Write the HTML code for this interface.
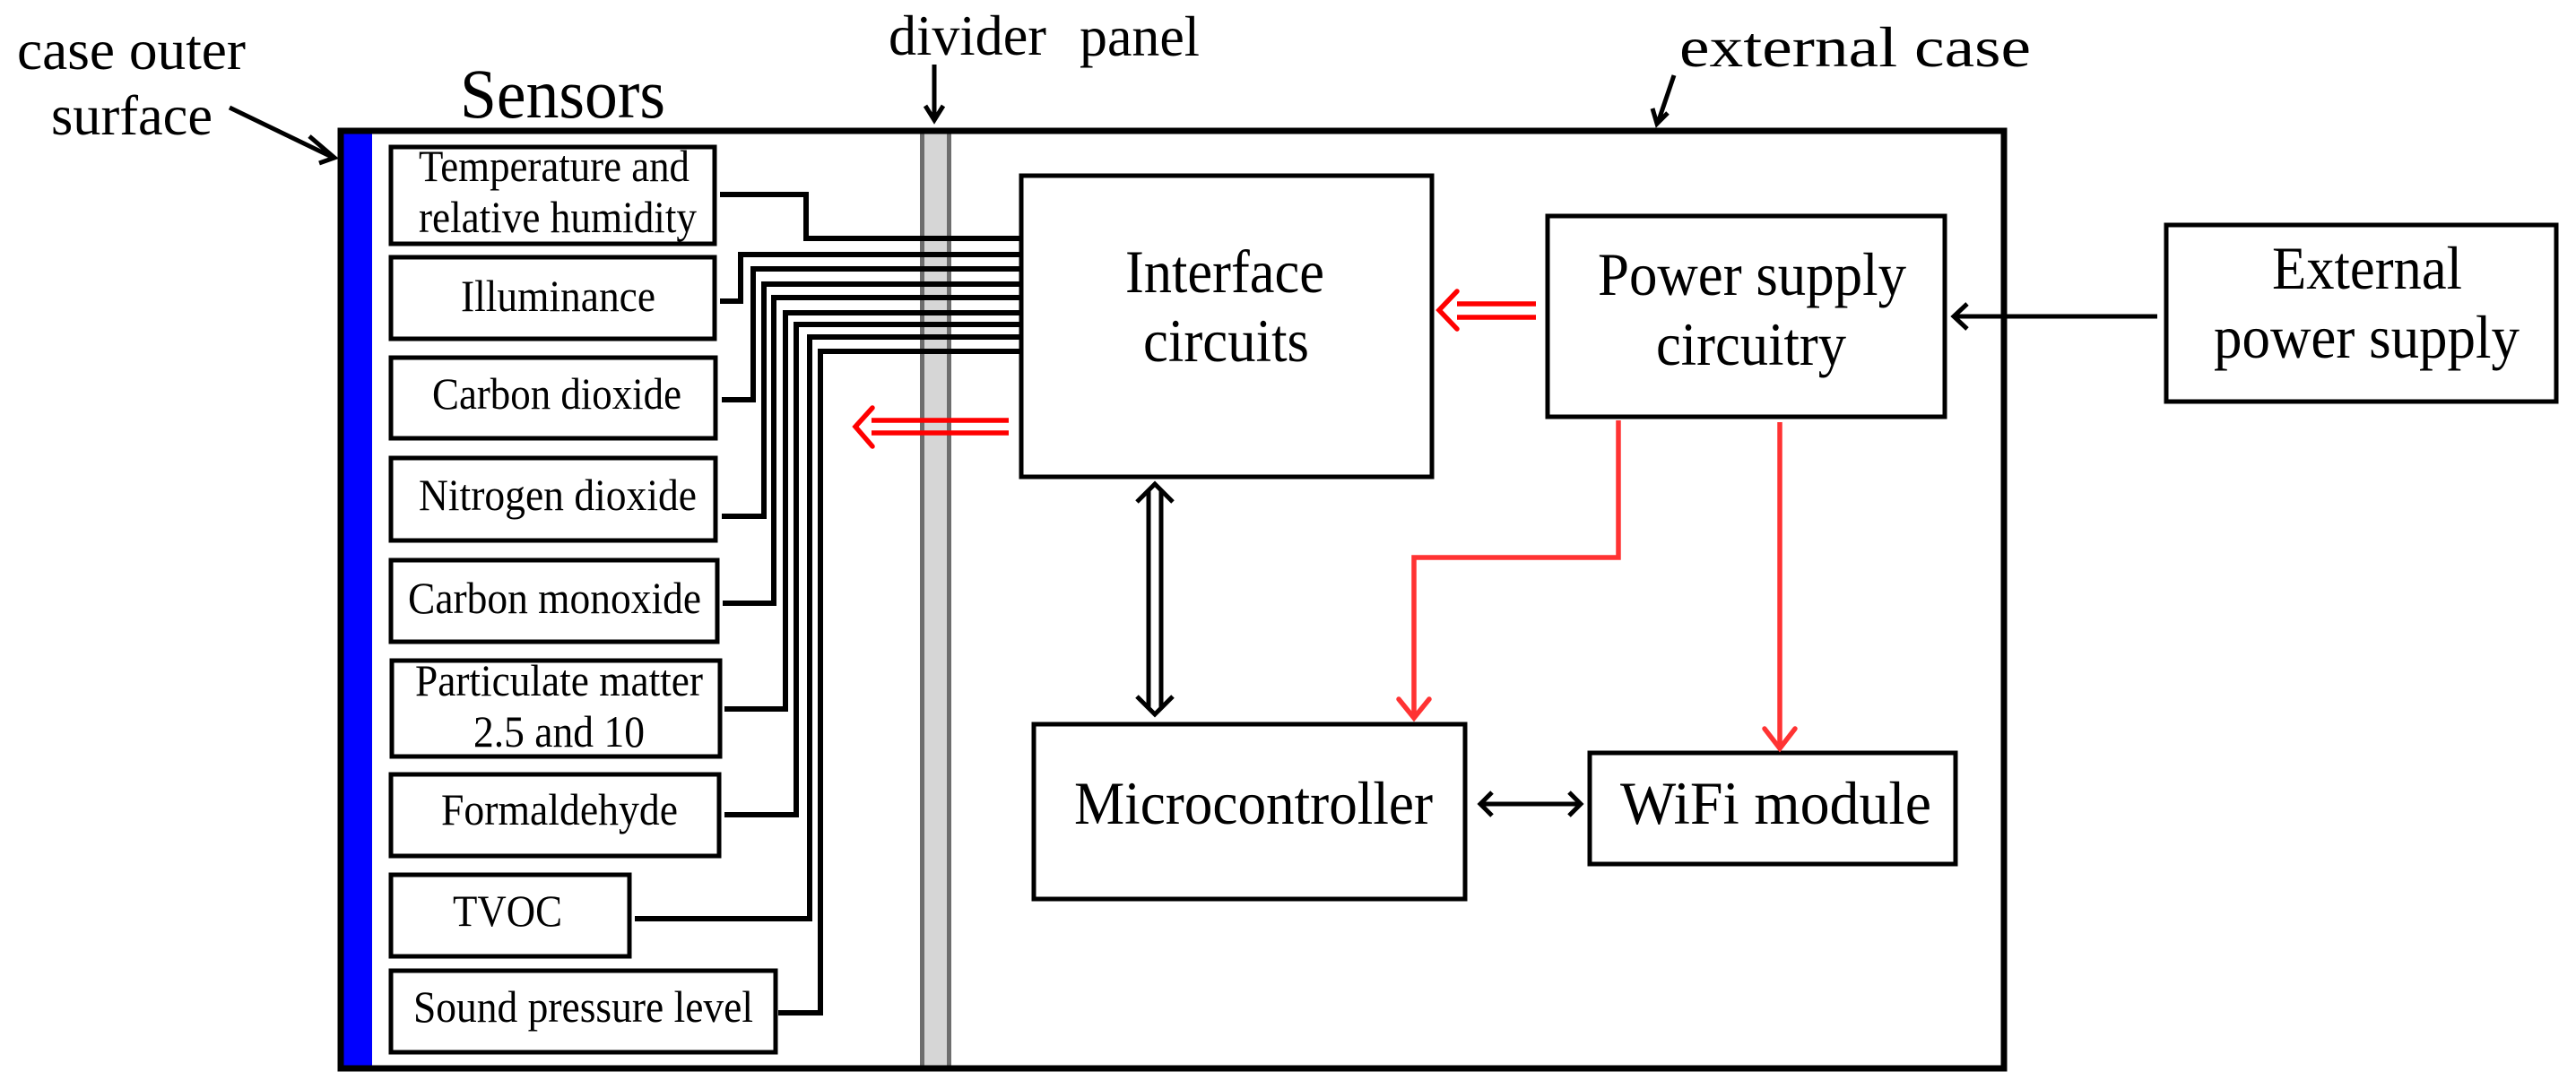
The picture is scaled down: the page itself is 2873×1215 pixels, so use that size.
<!DOCTYPE html>
<html><head><meta charset="utf-8"><style>
html,body{margin:0;padding:0;background:#fff;}
svg{display:block;}
</style></head><body>
<svg width="2873" height="1215" viewBox="0 0 2873 1215" xmlns="http://www.w3.org/2000/svg" font-family="'Liberation Serif', serif">
<!-- divider -->
<rect x="1026" y="149" width="35" height="1043" fill="#d6d6d6"/>
<rect x="1026" y="149" width="5" height="1043" fill="#6e6e6e"/>
<rect x="1056" y="149" width="5" height="1043" fill="#6e6e6e"/>
<!-- blue bar -->
<rect x="383" y="149" width="32" height="1043" fill="#0000ff"/>
<!-- external case -->
<rect x="380" y="146" width="1855" height="1046" fill="none" stroke="#000" stroke-width="7"/>

<!-- sensor boxes -->
<g fill="none" stroke="#000" stroke-width="5">
<rect x="436" y="164" width="361" height="108"/>
<rect x="436" y="287" width="361" height="91"/>
<rect x="436" y="399" width="362" height="90"/>
<rect x="436" y="511" width="362" height="92"/>
<rect x="436" y="625" width="364" height="91"/>
<rect x="437" y="737" width="366" height="107"/>
<rect x="436" y="864" width="366" height="91"/>
<rect x="436" y="976" width="266" height="91"/>
<rect x="436" y="1083" width="429" height="91"/>
</g>
<!-- wires -->
<g fill="none" stroke="#000" stroke-width="6" stroke-linejoin="miter">
<polyline points="803,217 899,217 899,266 1139,266"/>
<polyline points="803,336 826,336 826,284 1139,284"/>
<polyline points="805,446 840,446 840,300 1139,300"/>
<polyline points="805,576 852,576 852,317 1139,317"/>
<polyline points="806,673 863,673 863,332 1139,332"/>
<polyline points="808,791 876,791 876,349 1139,349"/>
<polyline points="808,909 888,909 888,362 1139,362"/>
<polyline points="708,1025 903,1025 903,376 1139,376"/>
<polyline points="868,1130 915,1130 915,392 1139,392"/>
</g>

<!-- main boxes -->
<g fill="none" stroke="#000" stroke-width="5">
<rect x="1139" y="196" width="458" height="336"/>
<rect x="1726" y="241" width="443" height="224"/>
<rect x="2416" y="251" width="435" height="197"/>
<rect x="1153" y="808" width="481" height="195"/>
<rect x="1773" y="840" width="408" height="124"/>
</g>

<!-- black arrows -->
<g fill="none" stroke="#000" stroke-width="5">
<line x1="256" y1="120" x2="372" y2="176"/>
<polyline points="345,152 373,176 356,182"/>
<line x1="1042" y1="72" x2="1042" y2="134"/>
<polyline points="1032,118 1042,134 1052,118"/>
<line x1="1867" y1="84" x2="1849" y2="137"/>
<polyline points="1843,121 1848,138 1860,126"/>
<line x1="2406" y1="353" x2="2180" y2="353"/>
<polyline points="2194,339 2179,353 2194,367"/>
<line x1="1652" y1="897" x2="1762" y2="897"/>
<polyline points="1664,884 1651,897 1664,910"/>
<polyline points="1750,884 1763,897 1750,910"/>
<line x1="1281" y1="548" x2="1281" y2="790"/>
<line x1="1295" y1="548" x2="1295" y2="790"/>
<polyline points="1268,560 1288,540 1308,560"/>
<polyline points="1268,777 1288,797 1308,777"/>
</g>

<!-- red arrows -->
<g fill="none" stroke="#ff0000" stroke-width="5.5" stroke-linecap="round">
<line x1="1625" y1="339" x2="1713" y2="339" stroke-linecap="butt"/>
<line x1="1625" y1="354" x2="1713" y2="354" stroke-linecap="butt"/>
<polyline points="1625,325 1605,346 1625,367"/>
<line x1="972" y1="469" x2="1125" y2="469" stroke-linecap="butt"/>
<line x1="972" y1="483" x2="1125" y2="483" stroke-linecap="butt"/>
<polyline points="973,455 954,476 973,498"/>
</g>
<g fill="none" stroke="#ff3333" stroke-width="5.5" stroke-linecap="round">
<polyline points="1805,469 1805,622 1577,622 1577,800" stroke-linecap="butt"/>
<polyline points="1560,780 1577,801 1594,780"/>
<line x1="1985" y1="471" x2="1985" y2="834" stroke-linecap="butt"/>
<polyline points="1968,813 1985,835 2002,813"/>
</g>

<!-- titles -->
<g font-size="64" fill="#000">
<text x="19" y="77" textLength="255" lengthAdjust="spacingAndGlyphs">case outer</text>
<text x="57" y="150" textLength="180" lengthAdjust="spacingAndGlyphs">surface</text>
<text x="991" y="61" textLength="176" lengthAdjust="spacingAndGlyphs">divider</text>
<text x="1204" y="62" textLength="134" lengthAdjust="spacingAndGlyphs">panel</text>
<text x="1873" y="74" textLength="392" lengthAdjust="spacingAndGlyphs">external case</text>
</g>
<text x="513" y="131" font-size="78" textLength="229" lengthAdjust="spacingAndGlyphs" fill="#000">Sensors</text>

<!-- sensor labels -->
<g font-size="50" fill="#000">
<text x="467" y="202" textLength="302" lengthAdjust="spacingAndGlyphs">Temperature and</text>
<text x="467" y="259" textLength="310" lengthAdjust="spacingAndGlyphs">relative humidity</text>
<text x="514" y="347" textLength="217" lengthAdjust="spacingAndGlyphs">Illuminance</text>
<text x="482" y="456" textLength="278" lengthAdjust="spacingAndGlyphs">Carbon dioxide</text>
<text x="467" y="569" textLength="310" lengthAdjust="spacingAndGlyphs">Nitrogen dioxide</text>
<text x="455" y="684" textLength="327" lengthAdjust="spacingAndGlyphs">Carbon monoxide</text>
<text x="463" y="776" textLength="321" lengthAdjust="spacingAndGlyphs">Particulate matter</text>
<text x="528" y="833" textLength="191" lengthAdjust="spacingAndGlyphs">2.5 and 10</text>
<text x="492" y="920" textLength="264" lengthAdjust="spacingAndGlyphs">Formaldehyde</text>
<text x="505" y="1033" textLength="122" lengthAdjust="spacingAndGlyphs">TVOC</text>
<text x="461" y="1140" textLength="379" lengthAdjust="spacingAndGlyphs">Sound pressure level</text>
</g>

<!-- main labels -->
<g font-size="68" fill="#000">
<text x="1255" y="326" textLength="222" lengthAdjust="spacingAndGlyphs">Interface</text>
<text x="1275" y="403" textLength="185" lengthAdjust="spacingAndGlyphs">circuits</text>
<text x="1782" y="329" textLength="344" lengthAdjust="spacingAndGlyphs">Power supply</text>
<text x="1847" y="407" textLength="212" lengthAdjust="spacingAndGlyphs">circuitry</text>
<text x="2534" y="322" textLength="212" lengthAdjust="spacingAndGlyphs">External</text>
<text x="2469" y="399" textLength="341" lengthAdjust="spacingAndGlyphs">power supply</text>
<text x="1198" y="919" textLength="400" lengthAdjust="spacingAndGlyphs">Microcontroller</text>
<text x="1807" y="919" textLength="347" lengthAdjust="spacingAndGlyphs">WiFi  module</text>
</g>
</svg>
</body></html>
